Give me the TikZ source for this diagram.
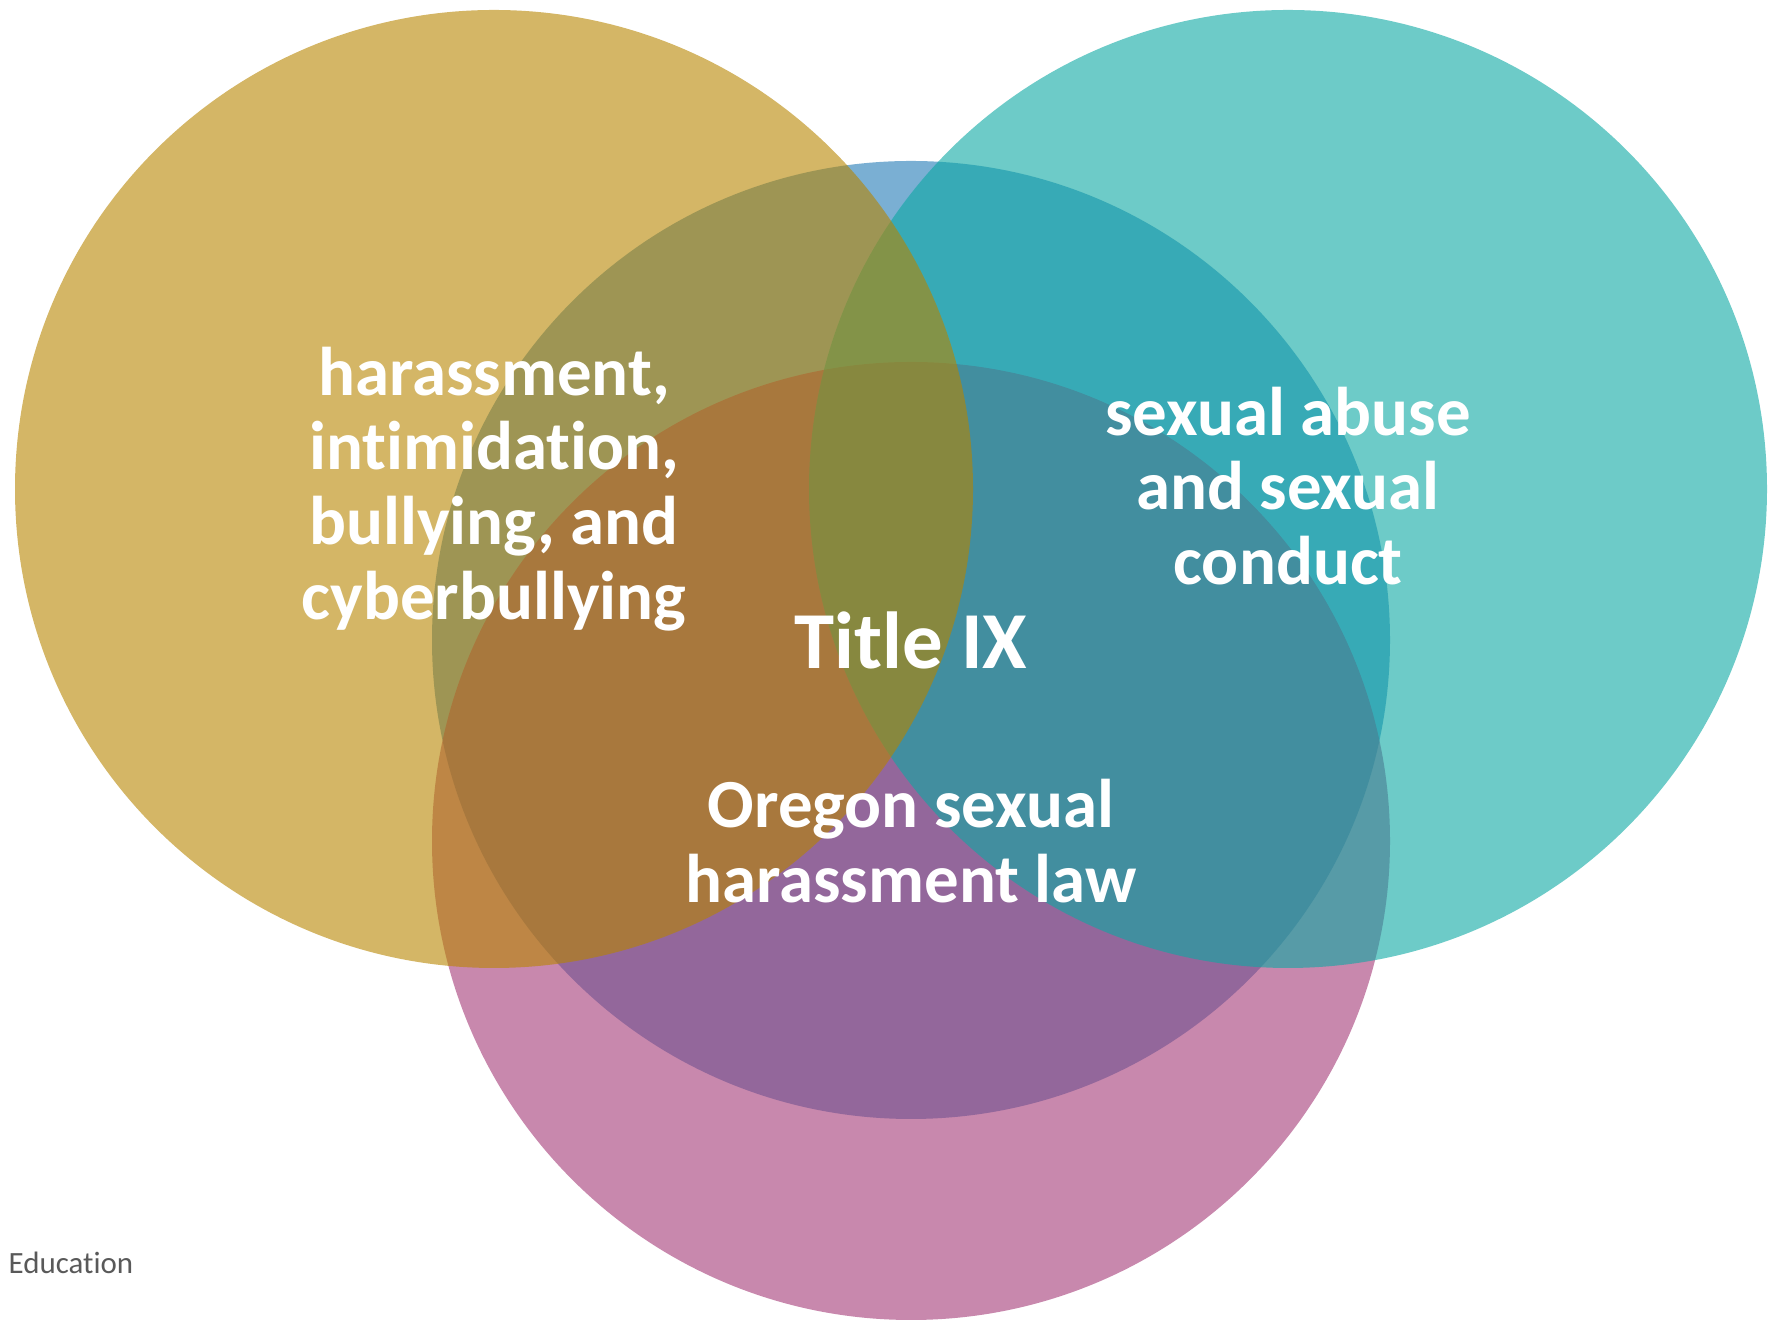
\documentclass[tikz,border=0pt]{standalone}
\usepackage{fontspec}
\setmainfont{Carlito}[Ligatures=NoCommon]
\usepackage{tikz}
\definecolor{goldset}{RGB}{183,133,0}
\definecolor{tealset}{RGB}{12,168,163}
\definecolor{blueset}{RGB}{33,122,182}
\definecolor{pinkset}{RGB}{164,56,118}
\definecolor{notegray}{RGB}{89,89,89}

\begin{document}
\begin{tikzpicture}[
  set/.style={circle,minimum size=9.58cm,inner sep=0pt,outer sep=0pt,fill opacity=0.6},
  term/.style={text=white,align=center,font=\fontsize{19.6}{21.3}\selectfont\bfseries}]
      \useasboundingbox (0,0) rectangle (17.75,13.2);

     % the four sets
     \node [set,fill=blueset] (b) at (9.11,6.80) {};
     \node [set,fill=pinkset] (p) at (9.11,4.79) {};
     \node [set,fill=tealset] (t) at (12.88,8.31) {};
     \node [set,fill=goldset] (g) at (4.94,8.31) {};

     % labels
     \node [term] (gl) at (g.center) {harassment,\\intimidation,\\bullying, and\\cyberbullying};
     \node [term] (tl) at ([yshift=0.03cm]t.center) {sexual abuse\\and sexual\\conduct};
     \node [term,font=\fontsize{23}{27}\selectfont\bfseries] (bl) at (b.center) {Title IX};
     \node [term] (pl) at (p.center) {Oregon sexual\\harassment law};

     \node [anchor=west,inner sep=0pt,text=notegray,font=\fontsize{8.8}{10}\selectfont] (ed) at (0.08,0.57) {Education};

  \end{tikzpicture}
\end{document}
